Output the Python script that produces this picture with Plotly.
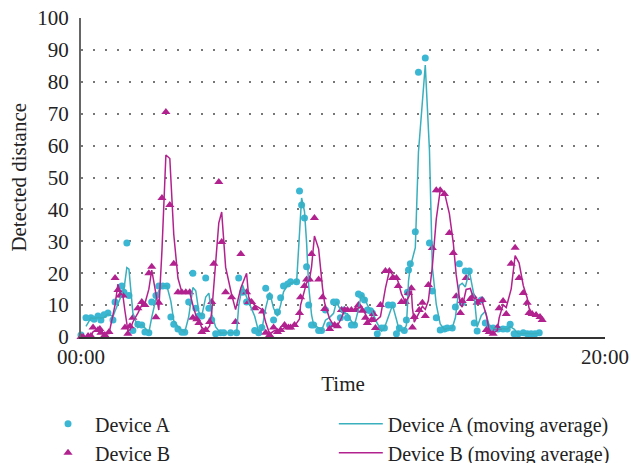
import pandas as pd
import plotly.graph_objects as go

# temps en heures depuis 00:00
temps_a = [
    0.00, 0.19, 0.38, 0.50, 0.65, 0.76, 0.88, 1.03, 1.22, 1.30, 1.56, 1.64, 1.75, 1.83,
    1.98, 2.17, 2.32, 2.44, 2.59, 2.70, 2.86, 2.97, 3.12, 3.28, 3.43, 3.54, 3.70, 3.85,
    3.96, 4.11, 4.27, 4.38, 4.50, 4.61, 4.76, 4.88, 4.99, 5.14, 5.33, 5.45, 5.71, 5.94,
    6.02, 6.17, 6.32, 6.63, 6.78, 6.90, 7.05, 7.20, 7.35, 7.50, 7.62, 7.73, 7.89, 8.00,
    8.23, 8.34, 8.42, 8.53, 8.61, 8.69, 8.80, 8.88, 9.07, 9.18, 9.33, 9.49, 9.64, 9.75,
    9.90, 10.02, 10.17, 10.32, 10.44, 10.59, 10.70, 10.82, 10.93, 11.05, 11.12, 11.31,
    11.47, 11.58, 11.73, 11.89, 12.04, 12.15, 12.34, 12.42, 12.46, 12.50, 12.57, 12.76,
    12.88, 13.14, 13.30, 13.41, 13.56, 13.71, 13.87, 13.98, 14.17, 14.29, 14.44, 14.55,
    14.67, 14.82, 15.01, 15.12, 15.28, 15.43, 15.58, 15.73, 15.92, 16.11, 16.27, 16.38,
    16.53, 16.69, 16.88, 17.03, 17.18, 17.33, 17.49,
]
distance_a = [
    0.6, 6, 6, 5.6, 6.6, 5.3, 7, 7.5, 5.3, 11, 16, 14, 29.5, 13,
    2, 4, 3.8, 1.6, 1.3, 11, 13, 16, 16, 16, 6.3, 4, 2.5, 1.5,
    1.5, 11, 20, 9, 6.6, 6.6, 18.5, 9, 5.3, 1, 1.3, 1.3, 1.3, 1.3,
    18.5, 14, 11, 2, 1.3, 3, 15.3, 12.7, 5.3, 7.8, 12.3, 16, 16.6, 17.3,
    17.3, 45.8, 41.4, 37.3, 22, 10, 3.8, 3.8, 2, 2, 8.5, 3.8, 11, 11,
    6, 8.5, 6, 3.8, 3.8, 13.5, 13, 11.6, 8.5, 8.2, 7.5, 1,
    2.8, 2.8, 10, 10, 1, 2.8, 2, 5.3, 14, 21, 23, 33,
    83, 87.5, 29.5, 14.4, 6, 2.2, 2.5, 2.8, 2.8, 9.4, 23, 10.7,
    20.7, 20.7, 4.4, 1.9, 11.6, 4.4, 2.8, 2.8, 2.5, 2.5, 2.5, 4,
    1, 1, 1.3, 1, 1, 1, 1.3,
]

temps_b = [
    0.00, 0.08, 0.27, 0.38, 0.46, 0.65, 0.72, 0.76, 0.91, 1.07, 1.30, 1.41, 1.49, 1.60,
    1.68, 1.79, 1.87, 1.98, 2.17, 2.32, 2.44, 2.59, 2.70, 2.86, 2.97, 3.09, 3.24, 3.39,
    3.54, 3.70, 3.85, 4.00, 4.15, 4.27, 4.42, 4.50, 4.61, 4.76, 4.91, 4.99, 5.07, 5.26,
    5.37, 5.52, 5.75, 5.90, 6.10, 6.32, 6.40, 6.51, 6.63, 6.93, 7.05, 7.20, 7.35, 7.50,
    7.62, 7.77, 7.92, 8.00, 8.15, 8.34, 8.38, 8.53, 8.61, 8.72, 8.80, 8.91, 9.07, 9.22,
    9.30, 9.49, 9.68, 9.79, 9.94, 10.06, 10.17, 10.32, 10.48, 10.59, 10.74, 10.86, 10.93,
    11.09, 11.16, 11.24, 11.43, 11.62, 11.77, 11.89, 12.04, 12.11, 12.23, 12.38, 12.50,
    12.61, 12.65, 12.72, 12.91, 13.03, 13.14, 13.26, 13.41, 13.56, 13.71, 13.87, 14.06,
    14.21, 14.32, 14.48, 14.55, 14.70, 14.86, 14.97, 15.12, 15.31, 15.47, 15.58, 15.73,
    15.89, 15.96, 16.11, 16.23, 16.42, 16.57, 16.72, 16.88, 17.03, 17.10, 17.22, 17.37,
    17.52, 17.60,
]
distance_b = [
    0, 0, 0.3, 0.3, 3, 2.2, 2.5, 1.3, 0.6, 1.6, 18.5, 14.7, 13, 13,
    3, 1, 3.4, 6, 9, 11, 10, 20, 22, 6.2, 10.7, 43.6, 70.5, 41.4,
    23, 14, 14, 14, 14, 6, 5.6, 4.4, 1.6, 2.2, 4.7, 11, 23, 48.6,
    29.8, 14, 12.5, 4.7, 26, 14, 11, 11, 9, 8, 1.3, 0.6, 3, 1.6,
    2.2, 3.8, 3, 3, 3.8, 7.5, 12.5, 16, 18, 18, 26, 37.3, 18, 12.5,
    8.8, 2.5, 3.8, 3.4, 8.5, 8.5, 8.5, 8.5, 8.5, 10, 8.2, 6, 4.4,
    5.3, 7.2, 2.8, 10, 20.7, 20.7, 18.5, 18.5, 16, 11, 11, 13.8,
    15.3, 3, 6.3, 8.5, 10.7, 6.6, 16.3, 27.9, 46, 46, 44.8, 32.6,
    26.3, 12.8, 7.5, 11.3, 18.5, 11.9, 12.8, 10.7, 11.6, 2.2, 1.6, 1,
    3, 9, 11.3, 7.2, 23, 28, 18.5, 13.8, 10.7, 7.5, 7.2, 6.9,
    6.3, 5.3,
]

graduations_y = [0, 10, 20, 30, 40, 50, 60, 70, 80, 90, 100]
graduations_x = [0, 20]
etiquettes_x = ["00:00", "20:00"]

CYAN = "#3bb7d3"
CYAN_LIGNE = "#3aafbd"
MAGENTA = "#b2228f"
POLICE = "Liberation Serif"
TEXTE = dict(family=POLICE, size=21, color="#222")
TEXTE_LEGENDE = dict(family=POLICE, size=20, color="#222")


def moyenne_mobile(valeurs, periode=2):
    return pd.Series(valeurs).rolling(periode).mean()


def legende(x):
    return dict(
        orientation="v", xref="container", yref="container",
        x=x, y=0.127, xanchor="left", yanchor="top",
        itemwidth=44, font=TEXTE_LEGENDE, traceorder="normal",
    )


fig = go.Figure()
fig.add_trace(go.Scatter(
    x=temps_a, y=distance_a, mode="markers", name="Device A",
    marker=dict(symbol="circle", size=7, color=CYAN), cliponaxis=False,
    legend="legend",
))
fig.add_trace(go.Scatter(
    x=temps_b, y=distance_b, mode="markers", name="Device B",
    marker=dict(symbol="triangle-up", size=8, color=MAGENTA), cliponaxis=False,
    legend="legend",
))
fig.add_trace(go.Scatter(
    x=temps_a, y=moyenne_mobile(distance_a), mode="lines",
    name="Device A (moving average)",
    line=dict(color=CYAN_LIGNE, width=1.5), cliponaxis=False,
    legend="legend2",
))
fig.add_trace(go.Scatter(
    x=temps_b, y=moyenne_mobile(distance_b), mode="lines",
    name="Device B (moving average)",
    line=dict(color=MAGENTA, width=1.5), cliponaxis=False,
    legend="legend2",
))

fig.update_layout(
    width=631, height=463,
    margin=dict(l=81, r=26, t=18, b=126, autoexpand=False),
    paper_bgcolor="white", plot_bgcolor="white",
    font=TEXTE,
    xaxis=dict(
        range=[0, 20], tickvals=graduations_x, ticktext=etiquettes_x,
        tickfont=TEXTE, automargin=False,
        showgrid=False, zeroline=False, showline=True,
        linecolor="#333", linewidth=2, ticks="",
        title=dict(text="Time", font=TEXTE, standoff=8),
    ),
    yaxis=dict(
        range=[0, 100], tickvals=graduations_y, tickfont=TEXTE, automargin=False,
        showgrid=True, gridcolor="#777", gridwidth=1.5, griddash="2px,10px",
        zeroline=False, showline=True, linecolor="#666", linewidth=2, ticks="",
        ticklabelstandoff=6,
    ),
    legend=legende(0.065),
    legend2=legende(0.529),
    showlegend=True,
)

# titre de l'axe y placé à la main
fig.add_annotation(
    text="Detected distance", textangle=-90, font=TEXTE,
    xref="paper", yref="paper", x=-0.12, y=0.5,
    xanchor="center", yanchor="middle", showarrow=False,
)

# la page par défaut ajoute une marge de 8 px autour du graphique
fig.write_html(
    "out.html",
    config={"displayModeBar": False},
    post_script="document.body.style.margin = '0';",
)
